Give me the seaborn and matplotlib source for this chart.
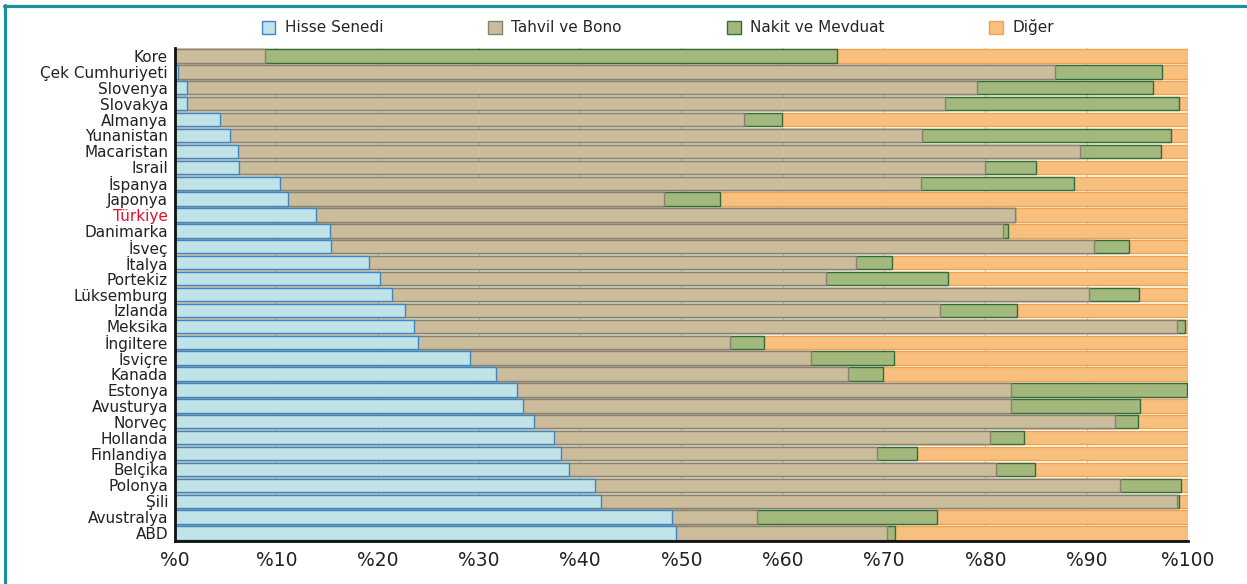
import numpy as np
import pandas as pd
import matplotlib
matplotlib.use("Agg")
import matplotlib.pyplot as plt
from matplotlib.lines import Line2D
from matplotlib.patches import Patch
import seaborn as sns

# values (% share of each asset class)
countries = ["Kore", "Çek Cumhuriyeti", "Slovenya", "Slovakya", "Almanya", "Yunanistan",
             "Macaristan", "Israil", "İspanya", "Japonya", "Türkiye", "Danimarka", "İsveç",
             "İtalya", "Portekiz", "Lüksemburg", "Izlanda", "Meksika", "İngiltere", "İsviçre",
             "Kanada", "Estonya", "Avusturya", "Norveç", "Hollanda", "Finlandiya", "Belçika",
             "Polonya", "Şili", "Avustralya", "ABD"]
hisse = [0.0, 0.3, 1.2, 1.2, 4.4, 5.4, 6.2, 6.3, 10.4, 11.2, 13.9, 15.3, 15.4, 19.2, 20.2,
         21.4, 22.7, 23.6, 24.0, 29.1, 31.7, 33.8, 34.4, 35.4, 37.4, 38.1, 38.9, 41.5, 42.1,
         49.1, 49.5]
tahvil = [8.9, 86.6, 78.0, 74.8, 51.8, 68.3, 83.1, 73.7, 63.2, 37.1, 69.0, 66.4, 75.3, 48.0,
          44.1, 68.8, 52.8, 75.3, 30.8, 33.7, 34.7, 48.7, 48.1, 57.4, 43.1, 31.2, 42.1, 51.8,
          56.8, 8.4, 20.8]
nakit = [56.5, 10.5, 17.3, 23.1, 3.7, 24.6, 8.0, 5.0, 15.1, 5.5, 0.0, 0.5, 3.5, 3.6, 12.0,
         5.0, 7.6, 0.8, 3.3, 8.2, 3.5, 17.4, 12.8, 2.3, 3.3, 3.9, 3.9, 6.0, 0.2, 17.7, 0.8]
diger = [34.6, 2.6, 3.5, 0.9, 40.1, 1.7, 2.7, 15.0, 11.3, 46.2, 17.1, 17.8, 5.8, 29.2, 23.7,
         4.8, 16.9, 0.3, 41.9, 29.0, 30.1, 0.1, 4.7, 4.9, 16.2, 26.8, 15.1, 0.7, 0.9, 24.8,
         28.9]
series = ["Hisse Senedi", "Tahvil ve Bono", "Nakit ve Mevduat", "Diğer"]
tick_labels = ["%0", "%10", "%20", "%30", "%40", "%50", "%60", "%70", "%80", "%90", "%100"]

fills = ["#c0e3e8", "#cbbc9c", "#a3b87c", "#f8c07e"]
edges = ["#3d86c6", "#8a7f70", "#2f6e3c", "#f0a34f"]

sns.set_theme(style="white")
plt.rcParams["font.family"] = ["DejaVu Sans"]

df = pd.DataFrame({"Ülke": countries, series[0]: hisse, series[1]: tahvil,
                   series[2]: nakit, series[3]: diger})
cum = df[series].cumsum(axis=1)

fig = plt.figure(figsize=(12.47, 5.84), dpi=100)
ax = fig.add_axes([0.1403, 0.0736, 0.8124, 0.8442])

# stacked bars: draw cumulative totals from the outermost layer inwards
for name, fc, ec in reversed(list(zip(series, fills, edges))):
    sns.barplot(x=cum[name], y=df["Ülke"], orient="h", color=fc, edgecolor=ec,
                linewidth=1.0, saturation=1, width=0.84, ax=ax)

# keep the bars above the light grid
for i, p in enumerate(ax.patches):
    p.set_zorder(3 + i / 1000)

ax.set_xlim(0, 100)
ax.set_ylim(len(countries) - 0.5, -0.5)
ax.set_xticks(np.arange(0, 101, 10))
ax.set_xticklabels(tick_labels, fontsize=13.5, color="#222222")
ax.tick_params(axis="x", length=0, pad=7)
ax.tick_params(axis="y", length=0, pad=5, labelsize=11, labelcolor="#222222")
ax.set_xlabel("")
ax.set_ylabel("")
for lbl in ax.get_yticklabels():
    if lbl.get_text() == "Türkiye":
        lbl.set_color("#e3112d")

ax.set_axisbelow(True)
ax.grid(axis="x", color="#cfcfcf", linewidth=1, zorder=0)
for side in ["top", "right"]:
    ax.spines[side].set_visible(False)
for side in ["left", "bottom"]:
    ax.spines[side].set_color("#111111")
    ax.spines[side].set_linewidth(2)
    ax.spines[side].set_zorder(5)

handles = [Patch(facecolor=fc, edgecolor=ec, linewidth=1) for fc, ec in zip(fills, edges)]
fig.legend(handles, series, loc="center", ncol=4, frameon=False, fontsize=11,
           bbox_to_anchor=(0.205, 0.928, 0.645, 0.05), mode="expand",
           handlelength=0.9, handleheight=0.9, handletextpad=0.6, borderaxespad=0)

# teal frame on top and left of the figure
fig.add_artist(Line2D([4 / 1247, 1], [1 - 6 / 584, 1 - 6 / 584], color="#17929a", lw=2.3,
                      transform=fig.transFigure))
fig.add_artist(Line2D([5 / 1247, 5 / 1247], [0, 1 - 5 / 584], color="#17929a", lw=2.3,
                      transform=fig.transFigure))

fig.savefig("out.png", dpi=100, facecolor="white")
